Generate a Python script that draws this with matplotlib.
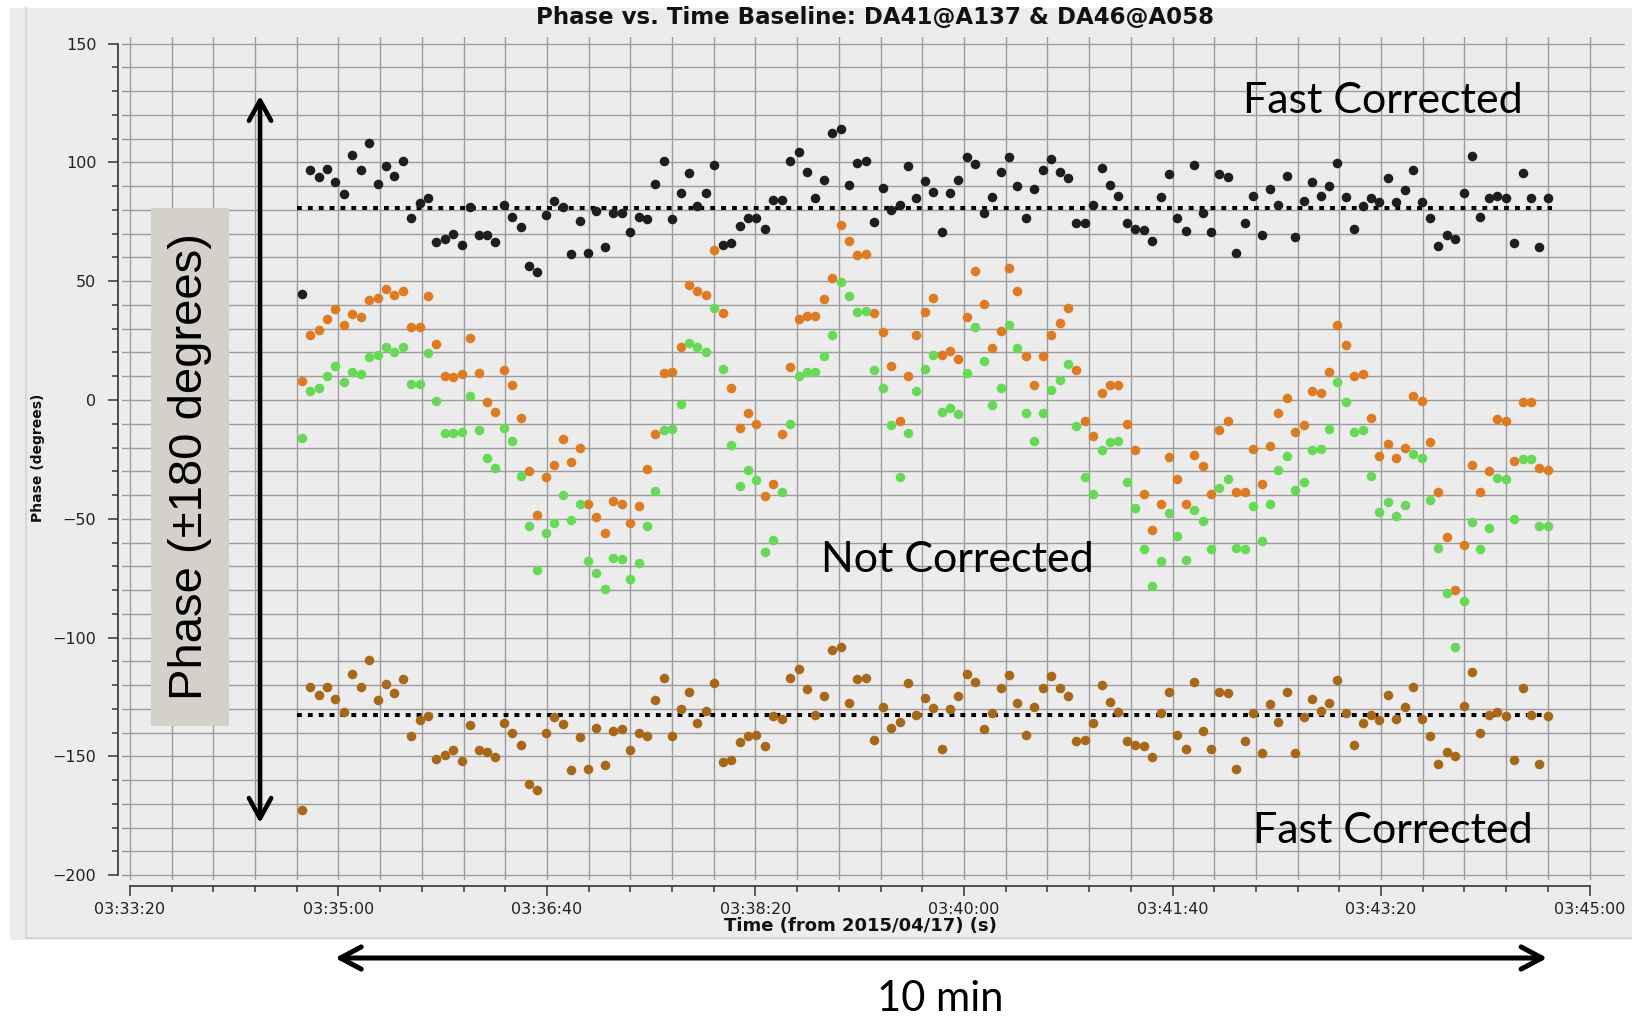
import numpy as np
import matplotlib.pyplot as plt
from matplotlib.patches import Rectangle
from matplotlib.lines import Line2D
from matplotlib.ticker import FuncFormatter, MultipleLocator

# time axis: seconds after 03:33:20 (2015/04/17)
axis_start = 3 * 3600 + 33 * 60 + 20
sample_first = 82.4   # first integration
sample_last = 680.0   # last integration

# phases (degrees), one value per integration
fast_top = [
    44.8, 96.7, 93.9, 97.3, 91.6, 86.6, 103.3, 96.7, 108.3, 91.1,
    98.4, 94.4, 100.6, 76.5, 82.8, 84.9, 66.5, 67.7, 69.9, 65.4,
    81.1, 69.3, 69.3, 66.5, 82.2, 77.2, 72.7, 56.6, 53.8, 77.8,
    83.9, 81.1, 61.5, 75.5, 62.0, 79.4, 64.3, 78.9, 78.9, 70.5,
    77.2, 76.1, 91.1, 100.5, 76.1, 87.2, 95.6, 81.7, 87.2, 98.9,
    65.4, 66.0, 73.3, 76.6, 76.6, 72.1, 84.3, 84.3, 100.5, 104.4,
    96.1, 84.9, 92.8, 112.3, 113.9, 90.5, 99.9, 100.5, 75.0, 89.4,
    80.0, 82.2, 98.4, 84.9, 92.2, 87.7, 70.5, 87.2, 92.8, 102.2,
    99.4, 78.9, 85.5, 96.1, 102.2, 90.0, 76.6, 88.8, 96.7, 101.6,
    96.1, 93.3, 74.4, 74.4, 82.1, 97.8, 90.5, 86.0, 74.4, 72.1,
    71.6, 67.1, 85.5, 95.0, 76.6, 71.0, 98.9, 78.9, 70.5, 95.0,
    93.9, 62.0, 74.4, 86.0, 69.3, 88.8, 82.1, 94.4, 68.8, 83.8,
    91.6, 86.0, 90.0, 99.9, 85.5, 72.1, 81.7, 84.9, 83.2, 93.3,
    83.2, 88.3, 96.7, 83.2, 76.6, 64.9, 69.3, 67.7, 87.2, 102.7,
    77.2, 84.9, 86.0, 84.9, 66.0, 95.6, 84.9, 64.3, 84.9,
]
raw_orange = [
    8.0, 27.5, 29.4, 34.3, 38.2, 31.5, 36.0, 34.8, 42.0, 43.1,
    46.6, 44.2, 45.9, 30.9, 30.9, 43.7, 23.6, 10.3, 9.7, 10.9,
    25.9, 11.4, -0.9, -4.9, 12.5, 6.4, -7.7, -29.7, -48.2, -32.3,
    -27.3, -16.5, -26.2, -20.2, -43.7, -49.3, -56.0, -42.6, -43.7, -51.6,
    -44.8, -29.0, -14.4, 11.4, 12.0, 22.5, 48.2, 45.9, 44.2, 63.2,
    36.5, 5.2, -11.6, -5.4, -9.9, -40.5, -35.4, -14.4, 13.7, 34.3,
    35.4, 35.4, 42.6, 51.5, 73.8, 67.1, 60.9, 61.5, 36.5, 28.7,
    14.2, -8.8, 10.3, 27.5, 37.1, 43.1, 19.1, 20.8, 17.4, 34.8,
    54.3, 40.3, 21.9, 29.2, 55.5, 45.9, 18.6, 6.4, 18.6, 27.5,
    32.6, 38.8, 12.5, -8.8, -15.0, 3.0, 6.4, 6.4, -9.9, -21.2,
    -39.4, -54.9, -43.9, -24.0, -33.4, -43.9, -23.1, -27.6, -39.4, -12.7,
    -8.8, -38.8, -38.8, -20.7, -35.4, -19.5, -5.4, 0.8, -13.3, -10.5,
    3.6, 3.0, 12.0, 31.5, 23.1, 10.3, 10.9, -7.7, -23.4, -18.4,
    -24.5, -20.4, 1.9, -0.4, -17.6, -38.8, -57.7, -80.0, -61.1, -27.4,
    -38.8, -29.7, -8.2, -8.8, -25.7, -0.9, -0.9, -28.5, -29.6,
]
raw_green = [
    -16.1, 3.6, 5.2, 10.3, 14.2, 7.5, 12.0, 10.9, 18.0, 19.1,
    22.5, 20.3, 22.5, 6.9, 6.9, 19.7, -0.4, -13.8, -13.8, -13.3,
    1.9, -12.7, -24.5, -28.5, -11.6, -17.4, -31.8, -53.2, -71.6, -56.0,
    -51.6, -39.8, -50.4, -43.7, -67.7, -72.7, -79.4, -66.6, -67.1, -75.5,
    -68.4, -53.2, -38.2, -12.7, -12.2, -1.5, 24.2, 22.5, 20.3, 38.8,
    13.0, -19.0, -36.0, -29.6, -33.6, -63.9, -58.8, -38.8, -9.9, 10.3,
    12.0, 12.0, 18.6, 27.5, 49.8, 43.7, 37.1, 37.6, 12.5, 5.2,
    -10.5, -32.2, -13.8, 3.6, 13.1, 19.1, -4.9, -3.2, -6.0, 11.4,
    30.9, 16.3, -2.1, 5.2, 31.5, 21.9, -5.4, -17.2, -5.4, 4.1,
    8.6, 15.2, -11.0, -32.2, -39.4, -21.2, -17.6, -17.2, -34.3, -45.5,
    -62.8, -78.3, -67.8, -47.6, -57.2, -67.3, -46.1, -51.0, -62.8, -37.1,
    -33.2, -62.1, -62.8, -44.8, -59.4, -43.7, -29.6, -23.4, -37.7, -34.3,
    -21.2, -20.8, -12.1, 7.5, -0.9, -13.3, -12.7, -32.1, -47.1, -43.1,
    -48.8, -44.3, -22.9, -24.5, -42.0, -62.1, -81.2, -104.1, -84.7, -51.2,
    -62.8, -54.0, -32.8, -33.3, -50.0, -24.8, -24.8, -53.2, -53.2,
]
fast_bottom = [
    -172.6, -120.7, -124.1, -120.7, -125.8, -131.4, -115.1, -120.7, -109.5, -126.3,
    -119.6, -123.5, -117.3, -141.3, -134.7, -132.9, -150.9, -149.6, -147.5, -152.0,
    -136.8, -147.5, -148.1, -150.3, -135.8, -140.3, -145.2, -161.4, -164.2, -140.3,
    -133.6, -136.4, -155.9, -141.9, -155.3, -137.9, -153.7, -139.1, -138.5, -147.5,
    -140.2, -141.3, -126.3, -116.8, -141.3, -130.2, -122.9, -135.8, -130.8, -119.0,
    -152.5, -151.4, -144.1, -141.3, -140.8, -145.8, -133.0, -134.2, -116.8, -113.4,
    -121.8, -132.5, -124.6, -105.1, -104.0, -127.4, -117.3, -116.8, -143.0, -129.1,
    -138.0, -135.3, -119.0, -132.5, -125.2, -129.7, -146.9, -130.2, -124.6, -115.1,
    -118.5, -138.5, -131.9, -121.3, -115.7, -127.4, -140.8, -129.1, -121.3, -116.2,
    -121.3, -124.6, -143.6, -143.0, -135.8, -120.1, -126.9, -131.4, -143.6, -145.2,
    -145.8, -150.3, -131.9, -122.9, -140.8, -146.9, -118.5, -139.1, -146.9, -122.9,
    -123.5, -155.3, -143.6, -131.9, -148.6, -128.0, -135.3, -122.9, -148.6, -133.6,
    -125.8, -130.8, -127.4, -117.9, -131.9, -145.2, -135.8, -132.5, -134.7, -124.1,
    -134.2, -129.1, -120.7, -134.2, -141.3, -153.1, -148.1, -149.8, -128.6, -114.6,
    -140.2, -132.5, -131.4, -133.0, -151.4, -121.3, -132.5, -153.1, -133.0,
]

# mean levels of the two fast-corrected baselines (dotted)
mean_top = 81.0
mean_bottom = -132.6
mean_span = (80, 682)

W, H = 1633, 1018
fig = plt.figure(figsize=(W / 100, H / 100), dpi=100)


def fx(x):
    return x / W


def fy(y):
    return 1 - y / H


# grey panel behind the chart
fig.add_artist(Rectangle((fx(10), fy(940)), fx(W - 10), 932 / H, transform=fig.transFigure,
                         facecolor='#ececec', edgecolor='none', zorder=-10))
fig.add_artist(Line2D([fx(26), fx(26)], [fy(8), fy(938)], color='#d2d2d2', lw=1.2))
fig.add_artist(Line2D([fx(26), fx(W)], [fy(938), fy(938)], color='#d2d2d2', lw=1.2))

ax = fig.add_axes([fx(122), fy(880), (1625 - 122) / W, (880 - 36.7) / H])
ax.patch.set_visible(False)
ax.set_xlim(-3.8, 717)
ax.set_ylim(-202, 152.9)

ax.xaxis.set_minor_locator(MultipleLocator(20))
ax.yaxis.set_minor_locator(MultipleLocator(10))
ax.set_xticks(np.arange(0, 701, 100))
ax.set_yticks(np.arange(-200, 151, 50))


def clock(t, pos):
    s = int(round(axis_start + t))
    return '%02d:%02d:%02d' % (s // 3600, s // 60 % 60, s % 60)


ax.xaxis.set_major_formatter(FuncFormatter(clock))
ax.grid(which='both', color='#9c9c9c', lw=1.0, zorder=0)
ax.set_axisbelow(True)

for side in ('top', 'right'):
    ax.spines[side].set_visible(False)
ax.spines['left'].set_position(('outward', 3))
ax.spines['left'].set_bounds(-200, 150)
ax.spines['bottom'].set_position(('outward', 4))
ax.spines['bottom'].set_bounds(0, 700)
for side in ('left', 'bottom'):
    ax.spines[side].set_color('#333333')
    ax.spines[side].set_linewidth(1.2)

ax.tick_params(which='major', length=7.5, width=1.1, color='#333333', labelsize=11.5,
               labelcolor='#222222')
ax.tick_params(which='minor', length=4.5, width=1.1, color='#333333')
ax.tick_params(axis='y', which='major', pad=8)
ax.tick_params(axis='x', which='major', pad=4)

t = np.linspace(sample_first, sample_last, len(fast_top))

dots = dict(linestyle='none', marker='o', ms=6.9, mec='none', zorder=4)
ax.plot(t, raw_orange, color='#de7b22', **dots)
ax.plot(t, raw_green, color='#67d957', **dots)
ax.plot(t, fast_top, color='#1e1e1e', **dots)
ax.plot(t, fast_bottom, color='#a86818', **dots)

for level in (mean_top, mean_bottom):
    ax.plot(mean_span, [level, level], color='black', lw=2.9,
            linestyle=(0, (1.2, 1.5)), dash_capstyle='butt', zorder=3)

# annotations
narrow = ['Lato', 'DejaVu Sans']
ax.text(601, 120.7, 'Fast Corrected', family=narrow, fontsize=31, ha='center', va='baseline', zorder=6)
ax.text(397, -72.4, 'Not Corrected', family=narrow, fontsize=31, ha='center', va='baseline', zorder=6)
ax.text(605.5, -186.3, 'Fast Corrected', family=narrow, fontsize=31, ha='center', va='baseline', zorder=6)

ax.add_patch(Rectangle((10.1, -137.2), 37.4, 218.0, facecolor='#d4d1ca', edgecolor='none', zorder=5))
ax.text(28.9, -28.1, 'Phase (\u00b1180 degrees)', family=['Liberation Sans', 'DejaVu Sans'],
        fontsize=34, rotation=90, ha='center', va='center', zorder=6)

ax.annotate('', xy=(62.4, 128.0), xytext=(62.4, -178.0),
            arrowprops=dict(arrowstyle='<->, head_length=1.45, head_width=0.8', lw=3.3,
                            color='black', shrinkA=0, shrinkB=0, mutation_scale=10),
            zorder=6)
ax.annotate('', xy=(679.7, -0.0925), xytext=(98.4, -0.0925),
            xycoords=ax.get_xaxis_transform(), textcoords=ax.get_xaxis_transform(),
            arrowprops=dict(arrowstyle='<->, head_length=1.5, head_width=0.8', lw=3.6,
                            color='black', shrinkA=0, shrinkB=0, mutation_scale=10),
            annotation_clip=False)
fig.text(fx(903 * 1.0415), fy(1011), '10 min', family=narrow, fontsize=30, ha='center', va='baseline')

fig.text(fx(875), fy(18), 'Phase vs. Time Baseline: DA41@A137 & DA46@A058',
         fontsize=16.5, fontweight='bold', ha='center', va='center', color='#111111')
fig.text(fx(860), fy(926), 'Time (from 2015/04/17) (s)', fontsize=13, fontweight='bold',
         ha='center', va='center', color='#111111')
fig.text(fx(38.5), fy(458), 'Phase (degrees)', fontsize=10, fontweight='bold', rotation=90,
         ha='center', va='center', color='#111111')

fig.savefig('out.png', dpi=100, facecolor='white')
